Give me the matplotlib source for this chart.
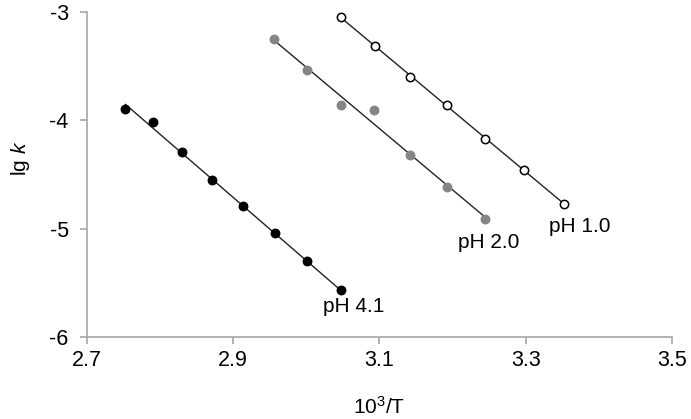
import matplotlib
matplotlib.use("Agg")
import matplotlib.pyplot as plt
import numpy as np

plt.rcParams['font.family'] = ['Liberation Sans', 'DejaVu Sans']
plt.rcParams['mathtext.fontset'] = 'custom'
plt.rcParams['mathtext.rm'] = 'Liberation Sans'
plt.rcParams['mathtext.it'] = 'Liberation Sans:italic'

# datos: 10^3/T frente a lg k
x_ph41 = [2.753, 2.791, 2.830, 2.871, 2.914, 2.957, 3.001, 3.047]
y_ph41 = [-3.898, -4.018, -4.296, -4.554, -4.794, -5.044, -5.302, -5.567]

x_ph20 = [2.956, 3.001, 3.047, 3.093, 3.142, 3.193, 3.244]
y_ph20 = [-3.249, -3.536, -3.862, -3.905, -4.318, -4.616, -4.908]

x_ph10 = [3.047, 3.094, 3.142, 3.193, 3.244, 3.298, 3.353]
y_ph10 = [-3.043, -3.314, -3.603, -3.856, -4.170, -4.459, -4.773]

etiquetas = ["pH 4.1", "pH 2.0", "pH 1.0"]
xticks = [2.7, 2.9, 3.1, 3.3, 3.5]
yticks = [-6, -5, -4, -3]

fig = plt.figure(figsize=(6.91, 4.19), dpi=100)
ax = fig.add_axes([0.1255, 0.1957, 0.847, 0.7757])

series = [
    (x_ph41, y_ph41, dict(mfc='black', mec='black')),
    (x_ph20, y_ph20, dict(mfc='#858585', mec='#858585')),
    (x_ph10, y_ph10, dict(mfc='white', mec='black')),
]
for xs, ys, st in series:
    xs = np.array(xs)
    ys = np.array(ys)
    # recta de regresion entre el primer y el ultimo punto
    m, b = np.polyfit(xs, ys, 1)
    xl = np.array([xs.min(), xs.max()])
    ax.plot(xl, m * xl + b, color='#222222', lw=1.0, zorder=2)
    ax.plot(xs, ys, 'o', ms=6, mfc=st['mfc'], mec=st['mec'], mew=1.1, zorder=3)

# etiquetas de cada serie junto al ultimo punto
ax.text(x_ph41[-1] + 0.018, y_ph41[-1] - 0.15, etiquetas[0], fontsize=15, ha='center', va='center')
ax.text(x_ph20[-1] + 0.006, y_ph20[-1] - 0.22, etiquetas[1], fontsize=15, ha='center', va='center')
ax.text(x_ph10[-1] + 0.021, y_ph10[-1] - 0.21, etiquetas[2], fontsize=15, ha='center', va='center')

ax.set_xlim(2.7, 3.5)
ax.set_ylim(-6, -3)
ax.set_xticks(xticks)
ax.set_yticks(yticks)
ax.set_xticklabels([f"{t:.1f}" for t in xticks])
ax.set_yticklabels([str(t) for t in yticks])

for s in ['top', 'right']:
    ax.spines[s].set_visible(False)
for s in ['left', 'bottom']:
    ax.spines[s].set_color('#a6a6a6')
    ax.spines[s].set_linewidth(1.2)
ax.tick_params(axis='both', colors='#a6a6a6', labelcolor='black', labelsize=15.5, length=5, width=1.2)
ax.tick_params(axis='y', pad=8)
ax.tick_params(axis='x', pad=4)

ax.set_xlabel("10$^3$/T", fontsize=15)
ax.xaxis.set_label_coords(0.5, -0.18)
ax.set_ylabel("lg $\\it{k}$", fontsize=15)
ax.yaxis.set_label_coords(-0.093, 0.55)

plt.savefig('out.png', dpi=100)
